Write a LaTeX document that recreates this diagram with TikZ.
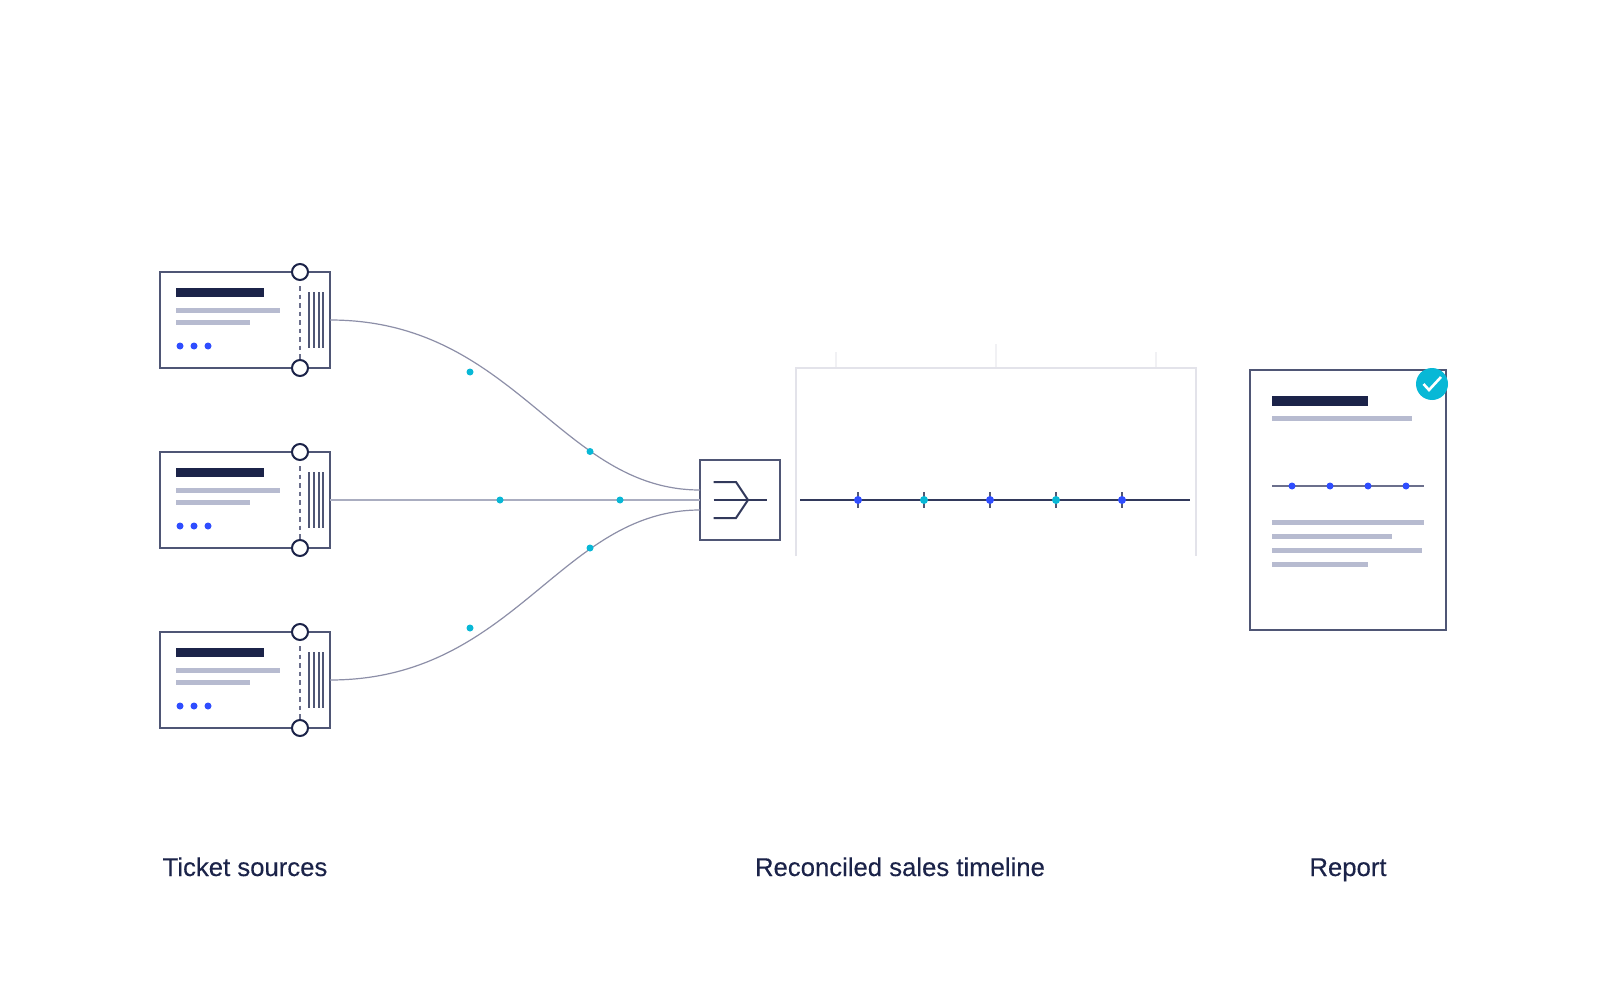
\documentclass[tikz,border=0pt]{standalone}
\usepackage{fontspec}
\setmainfont[FakeBold=0.2]{Liberation Sans}
\definecolor{navy}{HTML}{1B2349}
\definecolor{edge}{HTML}{4F5675}
\definecolor{lightbar}{HTML}{B7BBD0}
\definecolor{blue}{HTML}{2F4DFF}
\definecolor{cyan}{HTML}{08B8D6}
\definecolor{flow}{HTML}{8D8FA8}
\definecolor{flowmid}{HTML}{AAADC0}
\definecolor{dashc}{HTML}{6B6F8C}
\definecolor{frame}{HTML}{E3E3EA}
\definecolor{faint}{HTML}{F1F1F4}
\tikzset{
 x=1pt,y=-1pt,
 box/.style={draw=edge,line width=2pt,fill=white,rectangle,inner sep=0pt,outer sep=0pt},
 darkbar/.style={fill=navy,draw=none},
 lightb/.style={fill=lightbar,draw=none},
 bluedot/.style={circle,fill=blue,draw=none,minimum size=7pt,inner sep=0pt},
 cyandot/.style={circle,fill=cyan,draw=none,minimum size=7pt,inner sep=0pt},
 notch/.style={circle,draw=navy,line width=2pt,fill=white,minimum size=16pt,inner sep=0pt},
 flowline/.style={draw=flow,line width=1.2pt},
 inner/.style={draw=navy!90!white,line width=2pt},
 label/.style={font=\fontsize{25.7}{30}\selectfont,text=navy,anchor=base},
 ticket/.pic={
  \node[box,minimum width=170pt,minimum height=96pt] (-body) at (85,48) {};
  \fill[darkbar] (16,16) rectangle (104,25);
  \fill[lightb] (16,36) rectangle (120,41);
  \fill[lightb] (16,48) rectangle (90,53);
  \node[bluedot] (-d1) at (20,74) {};
  \node[bluedot] (-d2) at (34,74) {};
  \node[bluedot] (-d3) at (48,74) {};
  \draw[draw=dashc,line width=1.8pt,dash pattern=on 4.5pt off 4pt] (140,14) -- (140,88);
  \foreach \bx in {149,154,159,163} \draw[draw=edge,line width=2pt] (\bx,20) -- (\bx,76);
  \node[notch] (-top) at (140,0) {};
  \node[notch] (-bot) at (140,96) {};
 }
}
\begin{document}
\begin{tikzpicture}
\useasboundingbox[fill=white] (0,0) rectangle (1600,1000);
\pic (t1) at (160,272) {ticket};
\pic (t2) at (160,452) {ticket};
\pic (t3) at (160,632) {ticket};
% merge box
\node[box,minimum width=80pt,minimum height=80pt] (merge) at (740,500) {};
\coordinate (in1) at (700,490);
\coordinate (in2) at (700,500);
\coordinate (in3) at (700,510);
% connectors
\draw[flowline] (t1-body.east) .. controls (515,320) and (560,490) .. (in1);
\draw[draw=flowmid,line width=1.6pt] (t2-body.east) -- (in2);
\draw[flowline] (t3-body.east) .. controls (515,680) and (560,510) .. (in3);
\node[cyandot] (p1) at (470,372) {};
\node[cyandot] (p2) at (590,451.5) {};
\node[cyandot] (p3) at (500,500) {};
\node[cyandot] (p4) at (620,500) {};
\node[cyandot] (p5) at (590,548) {};
\node[cyandot] (p6) at (470,628) {};
% merge glyph
\draw[inner] (713.5,482) -- (736,482) -- (748,500) -- (736,518) -- (713.5,518);
\draw[inner] (713.5,500) -- (767,500);
% chart frame
\draw[draw=faint,line width=2pt] (836,352) -- (836,368) (996,344) -- (996,368) (1156,352) -- (1156,368);
\draw[draw=frame,line width=2pt] (796,556) -- (796,368) -- (1196,368) -- (1196,556);
% timeline
\draw[draw=navy!90!white,line width=2pt] (800,500) -- (1190,500);
\foreach \tx/\tc/\tn in {858/blue/m1,924/cyan/m2,990/blue/m3,1056/cyan/m4,1122/blue/m5}{
  \draw[draw=edge,line width=2pt] (\tx,492) -- (\tx,508);
  \node[circle,fill=\tc,minimum size=8pt,inner sep=0pt] (\tn) at (\tx,500) {};
}
% report
\node[box,minimum width=196pt,minimum height=260pt] (report) at (1348,500) {};
\fill[darkbar] (1272,396) rectangle (1368,406);
\fill[lightb] (1272,416) rectangle (1412,421);
\draw[draw=dashc,line width=2pt] (1272,486) -- (1424,486);
\foreach \rx/\rn in {1292/r1,1330/r2,1368/r3,1406/r4} \node[bluedot] (\rn) at (\rx,486) {};
\fill[lightb] (1272,520) rectangle (1424,525);
\fill[lightb] (1272,534) rectangle (1392,539);
\fill[lightb] (1272,548) rectangle (1422,553);
\fill[lightb] (1272,562) rectangle (1368,567);
\node[circle,fill=cyan,minimum size=32pt,inner sep=0pt] (check) at (1432,384) {};
\draw[draw=white,line width=2.6pt,line join=miter] (1423.5,384) -- (1429,390) -- (1441,377);
% labels
\node[label] (l1) at (245,876) {Ticket sources};
\node[label] (l2) at (900,876) {Reconciled sales timeline};
\node[label] (l3) at (1348,876) {Report};
\end{tikzpicture}
\end{document}
